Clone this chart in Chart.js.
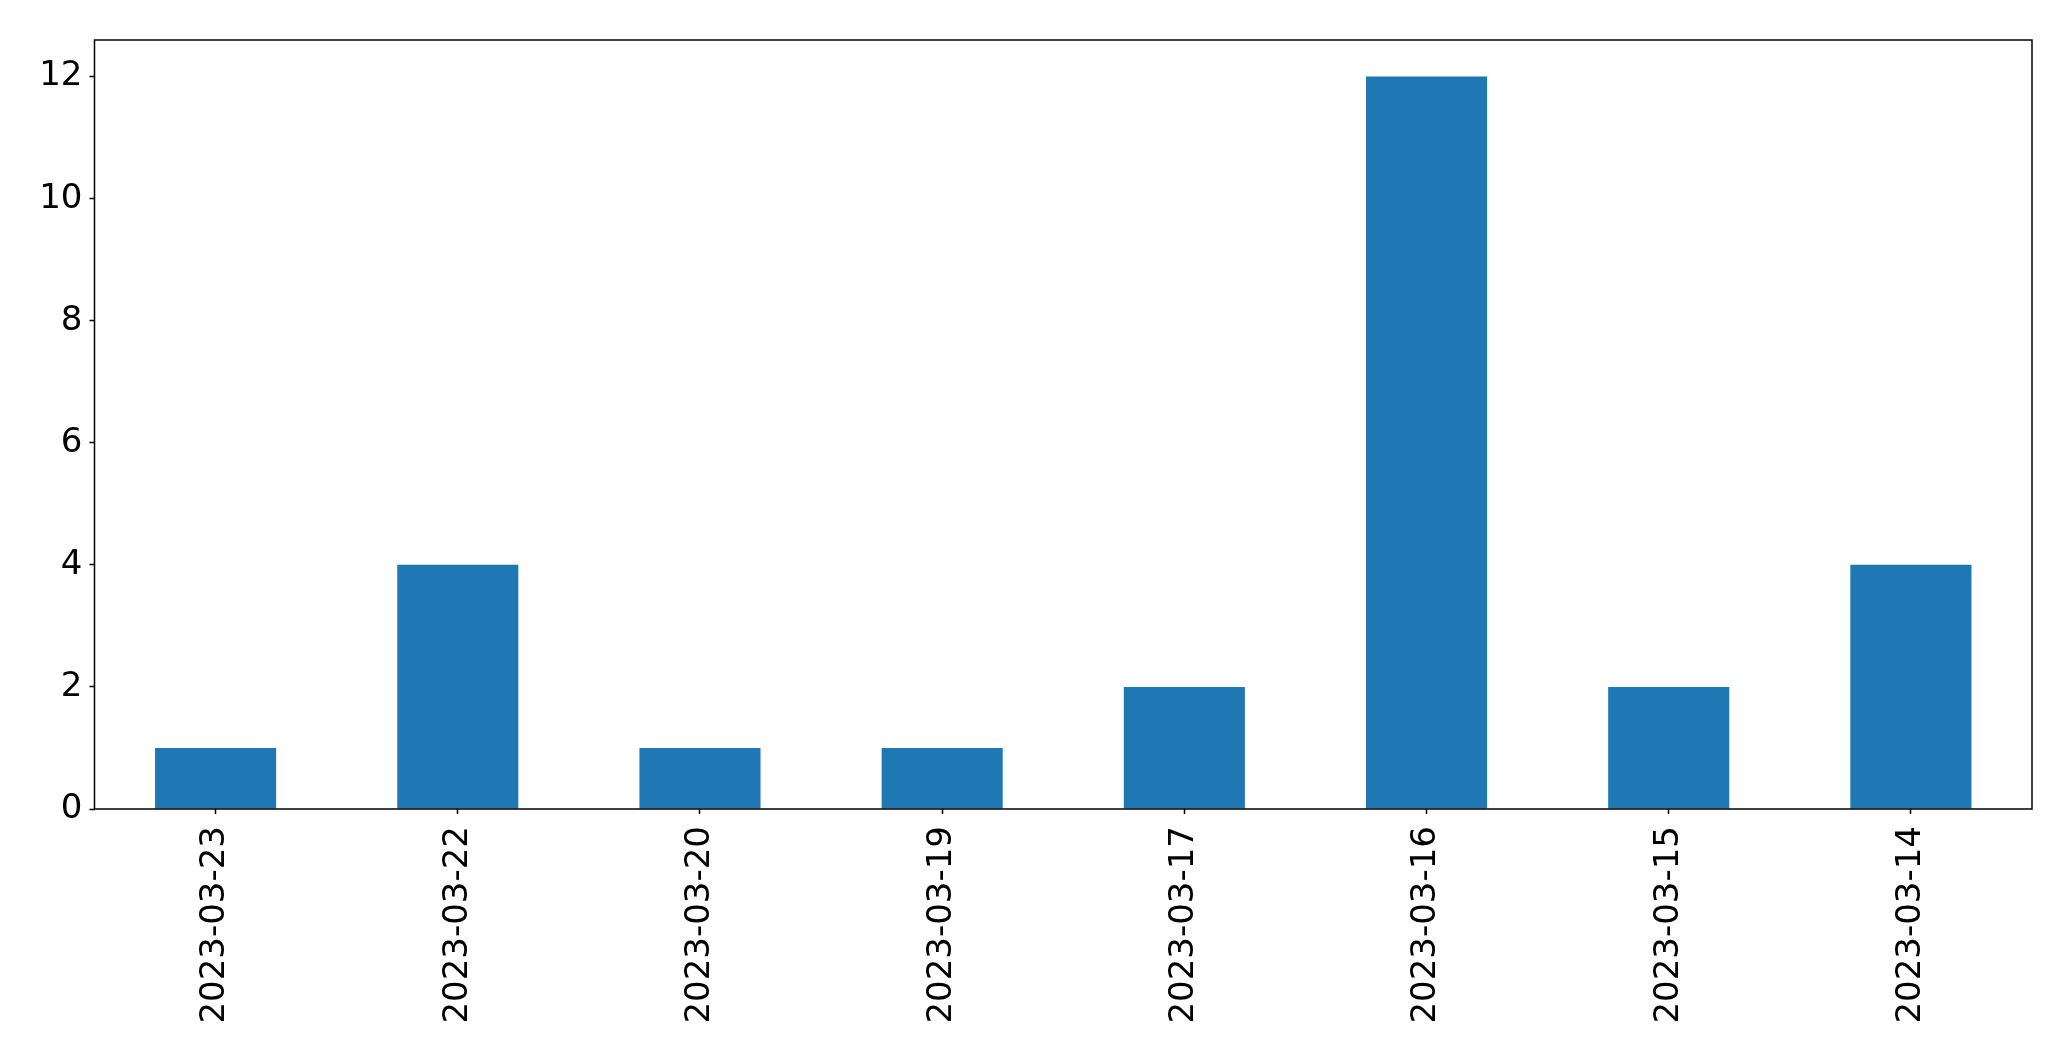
<!DOCTYPE html>
<html lang="en">
<head>
    <meta charset="UTF-8">
    <title>Bar Chart</title>
    <script src="https://cdn.jsdelivr.net/npm/chart.js"></script>
    <style>
        html, body { margin: 0; padding: 0; background: #fff; }
        #wrap { width: 2071px; height: 1061px; }
    </style>
</head>
<body>
    <div id="wrap"><canvas id="barChart"></canvas></div>

    <script>
        // data
        const dates = ['2023-03-23', '2023-03-22', '2023-03-20', '2023-03-19',
                       '2023-03-17', '2023-03-16', '2023-03-15', '2023-03-14'];
        const counts = [1, 4, 1, 1, 2, 12, 2, 4];
        const yTicks = [0, 2, 4, 6, 8, 10, 12];

        // box around the plot area (matplotlib style frame)
        const frame = {
            id: 'frame',
            afterDraw(chart) {
                const a = chart.chartArea;
                const c = chart.ctx;
                c.save();
                c.strokeStyle = '#000';
                c.lineWidth = 1.5;
                c.strokeRect(a.left, a.top, a.right - a.left, a.bottom - a.top);
                c.restore();
            }
        };

        const tickFont = { family: 'DejaVu Sans', size: 34 };

        new Chart(document.getElementById('barChart'), {
            type: 'bar',
            data: {
                labels: dates,
                datasets: [{
                    data: counts,
                    backgroundColor: '#1f77b4',
                    barPercentage: 0.5,
                    categoryPercentage: 1.0
                }]
            },
            options: {
                responsive: true,
                maintainAspectRatio: false,
                animation: false,
                layout: { padding: { top: 40, right: 39, left: 0, bottom: 0 } },
                plugins: { legend: { display: false }, tooltip: { enabled: false } },
                scales: {
                    x: {
                        grid: { display: true, offset: false, drawOnChartArea: false, drawTicks: true, tickLength: 5, tickColor: '#000', tickWidth: 1.5 },
                        border: { display: false },
                        ticks: { color: '#000', font: tickFont, minRotation: 90, maxRotation: 90, padding: 12, autoSkip: false },
                        afterFit(scale) { scale.height = 252; }
                    },
                    y: {
                        min: 0,
                        max: 12.6,
                        grid: { display: true, drawOnChartArea: false, drawTicks: true, tickLength: 5, tickColor: '#000', tickWidth: 1.5 },
                        border: { display: false },
                        afterBuildTicks(scale) { scale.ticks = yTicks.map(v => ({ value: v })); },
                        ticks: { color: '#000', font: tickFont, padding: 7, includeBounds: false },
                        afterFit(scale) { scale.width = 94.5; }
                    }
                }
            },
            plugins: [frame]
        });
    </script>
</body>
</html>
